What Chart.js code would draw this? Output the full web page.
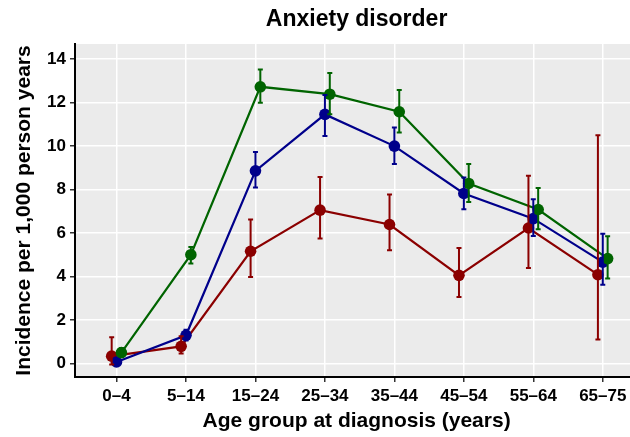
<!DOCTYPE html>
<html>
<head>
<meta charset="utf-8">
<script src="https://cdn.jsdelivr.net/npm/chart.js@4/dist/chart.umd.min.js"></script>
<style>
  html, body { margin: 0; padding: 0; background: #fff; overflow: hidden; }
  #wrap { width: 644px; height: 437px; }
</style>
</head>
<body>
<div id="wrap"><canvas id="c" width="644" height="437"></canvas></div>
<script>
// data
const ageGroups = ['0–4', '5–14', '15–24', '25–34', '35–44', '45–54', '55–64', '65–75'];
const yTicks = [0, 2, 4, 6, 8, 10, 12, 14];

const redVals  = [0.33, 0.78, 5.16, 7.05, 6.39, 4.05, 6.23, 4.08];
const redLow   = [-0.05, 0.45, 3.97, 5.75, 5.20, 3.05, 4.39, 1.10];
const redHigh  = [1.20, 1.25, 6.62, 8.58, 7.77, 5.31, 8.63, 10.5];

const blueVals = [0.06, 1.29, 8.86, 11.46, 10.00, 7.82, 6.66, 4.66];
const blueLow  = [0.00, 1.05, 8.09, 10.47, 9.17, 7.09, 5.86, 3.62];
const blueHigh = [0.15, 1.55, 9.73, 12.35, 10.86, 8.55, 7.55, 5.97];

const greenVals = [0.49, 5.00, 12.73, 12.39, 11.58, 8.28, 7.08, 4.82];
const greenLow  = [0.30, 4.60, 11.99, 11.47, 10.63, 7.43, 6.17, 3.90];
const greenHigh = [0.70, 5.35, 13.53, 13.37, 12.58, 9.17, 8.07, 5.85];

const FONT = "'Liberation Sans', Arial, Helvetica, sans-serif";
const DODGE = 0.07;

function mkSet(vals, low, high, color, shift, order) {
    return {
        data: vals.map((v, i) => ({ x: i + shift, y: v, lo: low[i], hi: high[i] })),
        borderColor: color,
        backgroundColor: color,
        pointBackgroundColor: color,
        pointBorderColor: color,
        pointRadius: 5.8,
        pointBorderWidth: 0,
        borderWidth: 2.2,
        tension: 0,
        order: order
    };
}

// grey panel behind everything
const panelBg = {
    id: 'panelBg',
    beforeDraw(chart) {
        const a = chart.chartArea, ctx = chart.ctx;
        ctx.save();
        ctx.fillStyle = '#ebebeb';
        ctx.fillRect(a.left, a.top, a.right - a.left, a.bottom - a.top);
        ctx.restore();
    }
};

// error bars, placed through the chart's scales
const errBars = {
    id: 'errBars',
    afterDatasetsDraw(chart) {
        const ctx = chart.ctx, xs = chart.scales.x, ys = chart.scales.y;
        ctx.save();
        chart.data.datasets.forEach((ds) => {
            ctx.strokeStyle = ds.borderColor;
            ctx.lineWidth = 2;
            ds.data.forEach((p) => {
                const x = xs.getPixelForValue(p.x);
                const y1 = ys.getPixelForValue(p.lo), y2 = ys.getPixelForValue(p.hi);
                ctx.beginPath();
                ctx.moveTo(x, y1); ctx.lineTo(x, y2);
                ctx.moveTo(x - 2.5, y1); ctx.lineTo(x + 2.5, y1);
                ctx.moveTo(x - 2.5, y2); ctx.lineTo(x + 2.5, y2);
                ctx.stroke();
            });
        });
        ctx.restore();
    }
};

new Chart(document.getElementById('c'), {
    type: 'line',
    data: {
        datasets: [
            mkSet(greenVals, greenLow, greenHigh, '#006400', DODGE, 1),
            mkSet(blueVals, blueLow, blueHigh, '#00008b', 0, 2),
            mkSet(redVals, redLow, redHigh, '#8b0000', -DODGE, 3)
        ]
    },
    options: {
        responsive: false,
        animation: false,
        layout: { padding: 0 },
        plugins: {
            legend: { display: false },
            tooltip: { enabled: false },
            title: {
                display: true,
                text: 'Anxiety disorder',
                fullSize: false,
                color: '#000',
                font: { family: FONT, size: 23, weight: 'bold', lineHeight: 1.2 },
                padding: { top: 6, bottom: 10.4 }
            }
        },
        scales: {
            x: {
                type: 'linear',
                min: -0.598,
                max: 7.51,
                afterBuildTicks(s) { s.ticks = ageGroups.map((_, i) => ({ value: i })); },
                afterFit(s) { s.height = 60; },
                ticks: {
                    color: '#000',
                    font: { family: FONT, size: 17, weight: 'bold' },
                    padding: 4,
                    maxRotation: 0,
                    autoSkip: false,
                    callback: (v) => ageGroups[v]
                },
                grid: { color: '#fff', lineWidth: 1.5, tickColor: '#333', tickLength: 5, tickWidth: 1.5 },
                border: { color: '#000', width: 2 },
                title: {
                    display: true,
                    text: 'Age group at diagnosis (years)',
                    color: '#000',
                    font: { family: FONT, size: 21, weight: 'bold', lineHeight: 1.2 },
                    padding: { top: 0, bottom: 3 }
                }
            },
            y: {
                type: 'linear',
                min: -0.63,
                max: 14.7,
                afterBuildTicks(s) { s.ticks = yTicks.map((v) => ({ value: v })); },
                afterFit(s) { s.width = 75; },
                ticks: {
                    color: '#000',
                    font: { family: FONT, size: 17, weight: 'bold' },
                    padding: 4
                },
                grid: { color: '#fff', lineWidth: 1.5, tickColor: '#333', tickLength: 5, tickWidth: 1.5 },
                border: { color: '#000', width: 2 },
                title: {
                    display: true,
                    text: 'Incidence per 1,000 person years',
                    color: '#000',
                    font: { family: FONT, size: 21, weight: 'bold', lineHeight: 1.2 },
                    padding: { top: 12, bottom: 0 }
                }
            }
        }
    },
    plugins: [panelBg, errBars]
});
</script>
</body>
</html>
